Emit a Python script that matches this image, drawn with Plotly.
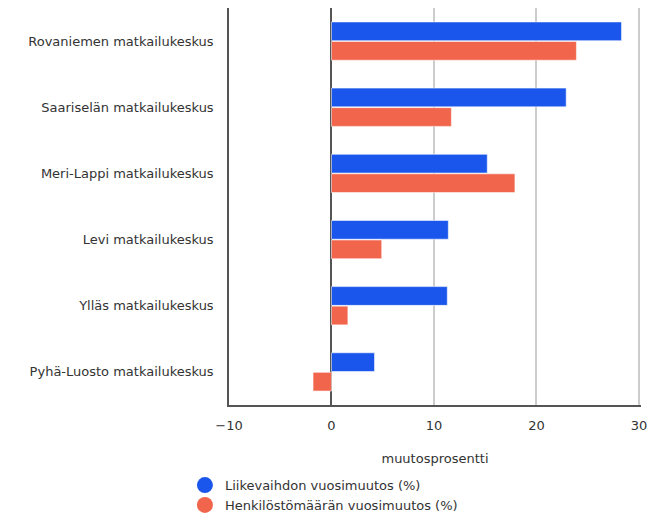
"""Matkailukeskusten liikevaihdon ja henkilöstön vuosimuutos."""
import plotly.graph_objects as go

centres = [
    "Rovaniemen matkailukeskus",
    "Saariselän matkailukeskus",
    "Meri-Lappi matkailukeskus",
    "Levi matkailukeskus",
    "Ylläs matkailukeskus",
    "Pyhä-Luosto matkailukeskus",
]
turnover_change = [28.3, 22.9, 15.2, 11.4, 11.3, 4.2]
staff_change = [23.9, 11.7, 17.9, 4.9, 1.6, -1.8]

series_names = ["Liikevaihdon vuosimuutos (%)", "Henkilöstömäärän vuosimuutos (%)"]
x_ticks = [-10, 0, 10, 20, 30]
x_tick_text = ["−10", "0", "10", "20", "30"]

BLUE = "#1a56eb"
RED = "#f2654d"
INK = "#333333"

fig = go.Figure()
for vals, name, col in [(turnover_change, series_names[0], BLUE),
                        (staff_change, series_names[1], RED)]:
    fig.add_trace(go.Bar(
        y=centres, x=vals, orientation="h", name=name,
        marker=dict(color=col, line=dict(color="rgba(255,255,255,0.55)", width=1)),
        showlegend=False,
    ))
    # round legend markers like the original
    fig.add_trace(go.Scatter(
        x=[None], y=[None], mode="markers", name=name,
        marker=dict(color=col, size=16, symbol="circle"),
    ))

fig.update_layout(
    width=648, height=514,
    paper_bgcolor="white", plot_bgcolor="white",
    font=dict(family="DejaVu Sans, Verdana, sans-serif", size=13, color=INK),
    margin=dict(l=229, r=7, t=8, b=109, autoexpand=False),
    barmode="group", bargap=0.41, bargroupgap=0.04,
    legend=dict(orientation="v", x=-0.107, xanchor="left", y=-0.164, yanchor="top",
                font=dict(size=13), itemsizing="trace", tracegroupgap=0),
)
fig.update_xaxes(
    range=[-10, 30.2], tickvals=x_ticks, ticktext=x_tick_text,
    ticklabeloverflow="allow",
    showgrid=True, gridcolor="#cccccc", gridwidth=1.5,
    zeroline=True, zerolinecolor="#555555", zerolinewidth=1.5,
    showline=True, linecolor="#555555", linewidth=1.5,
    ticks="", ticklabelstandoff=8,
    title=dict(text="muutosprosentti", standoff=22, font=dict(size=13)),
)
fig.update_yaxes(
    autorange="reversed", showgrid=False,
    showline=True, linecolor="#555555", linewidth=1.5,
    ticks="", ticklabelstandoff=11,
)

# page has no body margin so the chart sits at the window's top-left corner
fig.write_html("out.html", config={"displayModeBar": False},
               post_script="document.body.style.margin='0';")
